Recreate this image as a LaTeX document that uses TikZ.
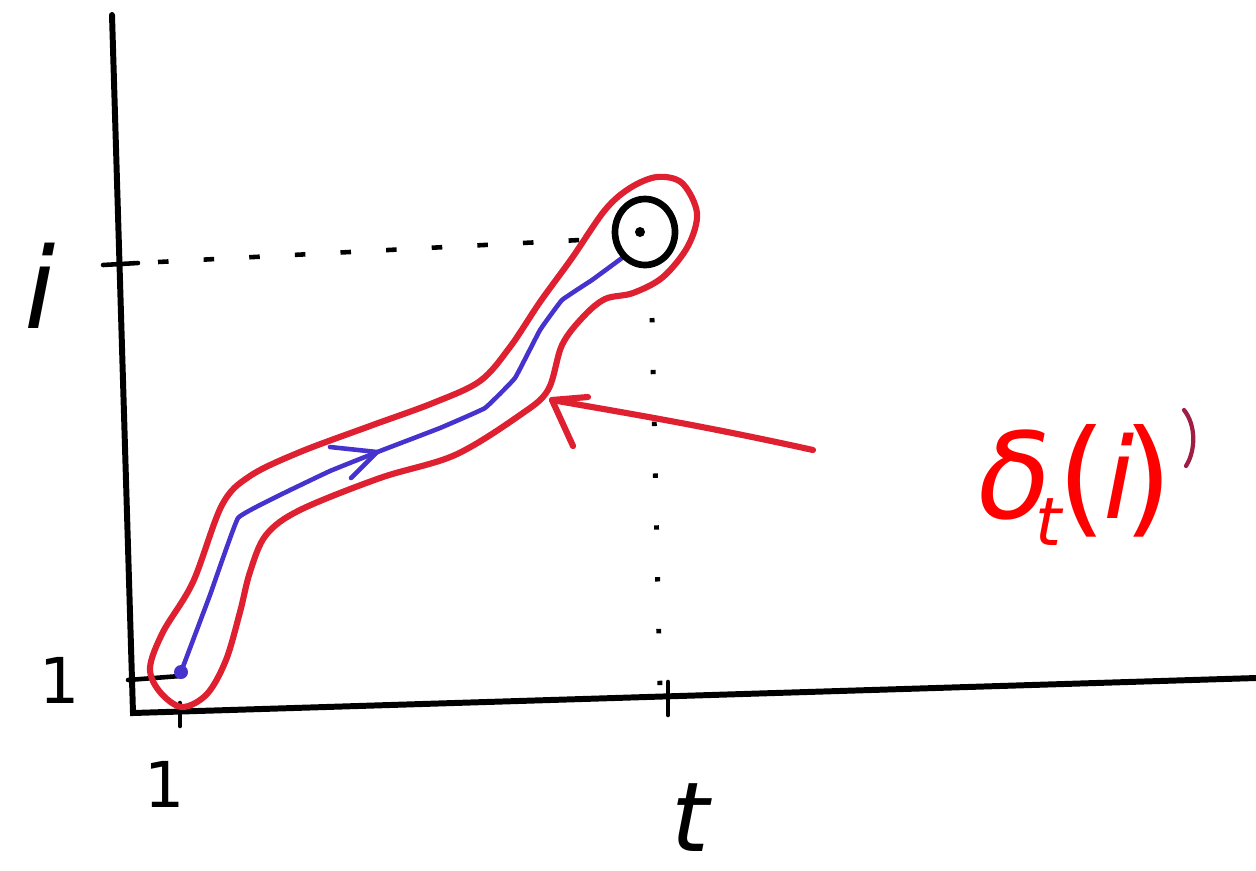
\documentclass[tikz,border=0pt]{standalone}
\usepackage{fontspec}
\setmainfont{DejaVu Sans}
\usetikzlibrary{arrows.meta}
\definecolor{penred}{RGB}{222,32,48}
\definecolor{penblue}{RGB}{70,50,205}
\definecolor{inkred}{RGB}{255,0,0}
\definecolor{stray}{RGB}{160,30,70}
\newcommand\placeglyph[3]{\rlap{\hspace*{#1}\raisebox{#2}{\makebox[0pt]{#3}}}}
\tikzset{
  axis/.style={line width=3.4pt,line cap=round},
  tick/.style={line width=2.6pt,line cap=round},
  dashguide/.style={line width=2.6pt,dash pattern=on 6pt off 20pt},
  dotguide/.style={line width=2.8pt,dash pattern=on 2.5pt off 27pt},
  redpen/.style={penred,line width=3.5pt,line cap=round,line join=round},
  bluepen/.style={penblue,line width=2.6pt,line cap=round,line join=round},
  lab/.style={inner sep=0pt,anchor=center}
}
\begin{document}
\begin{tikzpicture}[x=0.02cm,y=-0.02cm]
\useasboundingbox (0,0) rectangle (1256,870);
% axes
\coordinate (ytop) at (112,15);
\coordinate (orig) at (133,713);
\coordinate (xend) at (1256,678);
\draw[axis] (ytop) -- (orig) -- (xend);
% ticks
\coordinate (ti1) at (103,265); \coordinate (ti2) at (138,263);
\draw[tick] (ti1) -- (ti2);
\coordinate (tx1a) at (180,703); \coordinate (tx1b) at (180,726);
\draw[tick] (tx1a) -- (tx1b);
\coordinate (ty1a) at (128,680); \coordinate (ty1b) at (180,676);
\draw[tick] (ty1a) -- (ty1b);
\coordinate (tta) at (668,682); \coordinate (ttb) at (668,715);
\draw[tick] (tta) -- (ttb);
% guides
\coordinate (dhs) at (158,262); \coordinate (dhe) at (580,240);
\draw[dashguide] (dhs) -- (dhe);
\coordinate (dvs) at (652,318); \coordinate (dve) at (660,690);
\draw[dotguide] (dvs) -- (dve);
% red loop
\draw[redpen] plot[smooth cycle,tension=0.55] coordinates {
 (182,707) (160,692) (150,668) (163,632) (193,582) (222,505) (250,476)
 (300,452) (370,426) (433,403) (480,381) (510,347) (540,302) (572,258)
 (605,210) (630,188) (657,177) (682,183) (697,213) (688,246) (663,277)
 (633,293) (605,299) (583,317) (562,345) (548,390) (520,415) (455,455)
 (380,478) (300,510) (266,535) (250,572) (240,612) (226,660) (207,694)};
% blue path
\draw[bluepen] plot[smooth,tension=0.15] coordinates {
 (181,672) (210,595) (238,518) (280,495) (330,471) (380,451) (440,428)
 (485,408) (515,378) (540,330) (562,300) (592,280) (622,258)};
\coordinate (bdot) at (181,672);
\fill[penblue] (bdot) circle (7);
% blue arrowhead
\coordinate (btip) at (377,452);
\coordinate (bb1) at (330,447);
\coordinate (bb2) at (351,478);
\draw[bluepen] (bb1) -- (btip) -- (bb2);
% black circle
\coordinate (cc) at (645,232);
\draw[line width=3.8pt] (cc) ellipse (30 and 33);
\fill (640,232) circle (5);
% red arrow
\coordinate (ras) at (813,450);
\coordinate (rat) at (552,400);
\coordinate (rab1) at (588,397);
\coordinate (rab2) at (573,446);
\draw[redpen] (ras) .. controls (700,425) and (620,412) .. (rat);
\draw[redpen] (rab1) -- (rat) -- (rab2);
% stray mark
\coordinate (sm1) at (1184,410);
\coordinate (sm2) at (1186,466);
\draw[stray,line width=2.4pt,line cap=round] (sm1) .. controls (1196,425) and (1196,450) .. (sm2);
% labels
\node[lab,font=\fontsize{64}{66}\selectfont\itshape] (li) at (40,286) {i};
\node[lab,font=\fontsize{36}{40}\selectfont] (l1y) at (60,680) {1};
\node[lab,font=\fontsize{36}{40}\selectfont] (l1x) at (165,784) {1};
\node[lab,font=\fontsize{55}{60}\selectfont\itshape] (lt) at (690,818) {t};
\node[inner sep=0pt,anchor=base west,text=inkred] (ldelta) at (1000,518) {%
\placeglyph{0.30cm}{0pt}{\fontsize{68}{70}\selectfont\itshape δ}%
\placeglyph{0.96cm}{-0.54cm}{\fontsize{38}{40}\selectfont\itshape t}%
\placeglyph{1.64cm}{-0.04cm}{\fontsize{72}{74}\selectfont (}%
\placeglyph{2.38cm}{0pt}{\fontsize{64}{66}\selectfont\itshape i}%
\placeglyph{2.96cm}{-0.04cm}{\fontsize{72}{74}\selectfont )}%
\hspace*{3.2cm}};
\end{tikzpicture}
\end{document}
